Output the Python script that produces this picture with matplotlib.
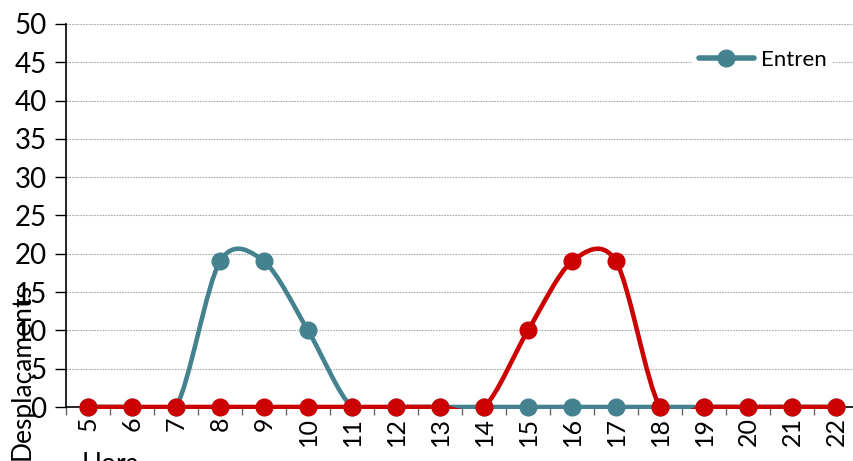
import numpy as np
import matplotlib
matplotlib.use("Agg")
import matplotlib.pyplot as plt
from matplotlib.path import Path
from matplotlib.patches import PathPatch, Rectangle
from matplotlib.lines import Line2D

plt.rcParams['font.family'] = ['Lato', 'DejaVu Sans']

hours = ['5', '6', '7', '8', '9', '10', '11', '12', '13', '14', '15', '16', '17', '18', '19', '20', '21', '22']
entren = [0, 0, 0, 19, 19, 10, 0, 0, 0, 0, 0, 0, 0, 0, 0, 0, 0, 0]
surten = [0, 0, 0, 0, 0, 0, 0, 0, 0, 0, 10, 19, 19, 0, 0, 0, 0, 0]

teal = '#44828F'
red = '#CC0000'

fig = plt.figure(figsize=(8.54, 4.61), dpi=100)
ax = fig.add_axes([66/854, 54/461, 792/854, 383/461])


def smooth_path(xs, ys):
    pts = np.column_stack([xs, ys]).astype(float)
    n = len(pts)
    verts = [pts[0]]
    codes = [Path.MOVETO]
    for i in range(n - 1):
        p0 = pts[i - 1] if i > 0 else pts[i]
        p1 = pts[i]
        p2 = pts[i + 1]
        p3 = pts[i + 2] if i + 2 < n else pts[i + 1]
        c1 = p1 + (p2 - p0) / 6.5
        c2 = p2 - (p3 - p1) / 6.5
        verts += [c1, c2, p2]
        codes += [Path.CURVE4] * 3
    return Path(verts, codes)


clip_rect = Rectangle((-0.1, -0.0065), 1.2, 1.1, transform=ax.transAxes,
                      facecolor='none', edgecolor='none')

x = np.arange(len(hours))
for ys, col in [(entren, teal), (surten, red)]:
    patch = PathPatch(smooth_path(x, ys), facecolor='none', edgecolor=col,
                      lw=3.3, capstyle='round', joinstyle='round', zorder=3)
    ax.add_patch(patch)
    patch.set_clip_path(clip_rect)
    ax.plot(x, ys, linestyle='none', marker='o', ms=12, color=col, zorder=4,
            clip_on=False)

ax.set_xlim(-0.5, len(hours) - 0.5)
ax.set_ylim(0, 50)
ax.set_yticks(np.arange(0, 51, 5))
ax.set_xticks(x)
ax.set_xticklabels(hours, rotation=90)
ax.set_xticks(np.arange(-0.5, len(hours), 1), minor=True)
ax.tick_params(axis='x', which='major', length=0, labelsize=18, pad=7)
ax.tick_params(axis='x', which='minor', length=6, width=1, color='#666666')
ax.tick_params(axis='y', which='major', length=8, width=1, labelsize=20, pad=6)
ax.yaxis.grid(True, linestyle=(0, (1.5, 1)), color='#aaaaaa', lw=0.8)
ax.set_axisbelow(True)
for s in ['top', 'right']:
    ax.spines[s].set_visible(False)
ax.spines['left'].set_linewidth(1.2)
ax.spines['bottom'].set_linewidth(1.2)

fig.text(22/854, 1 - 372/461, 'Desplaçaments', rotation=90, fontsize=19,
         ha='center', va='center')
fig.text(82/854, 1 - 464/461, 'Hora', fontsize=19, ha='left', va='center')

h = Line2D([], [], color=teal, lw=4, marker='o', ms=12, solid_capstyle='round')
leg = fig.legend([h], ['Entren'], loc='center left',
                 bbox_to_anchor=(692/854, 1 - 60/461), fontsize=16,
                 frameon=True, borderpad=0.3, handlelength=2.5,
                 handletextpad=0.3, borderaxespad=0)
leg.get_frame().set_facecolor('white')
leg.get_frame().set_edgecolor('none')
leg.get_frame().set_alpha(1)

fig.savefig('out.png', dpi=100)
